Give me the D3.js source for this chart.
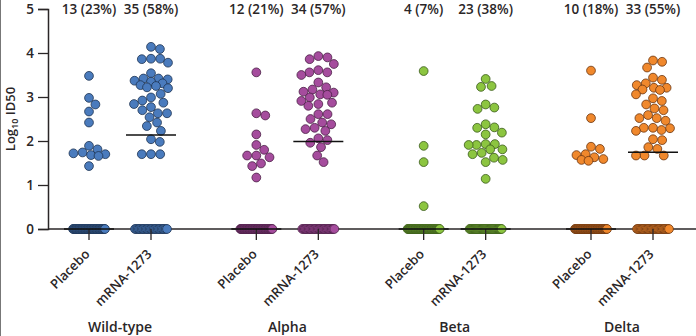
<!DOCTYPE html>
<html>
<head>
<meta charset="utf-8">
<script src="https://cdn.jsdelivr.net/npm/d3@7"></script>
<style>
  body { margin: 0; background: #fff; }
  svg { display: block; }
</style>
</head>
<body>
<svg id="chart" width="696" height="336"></svg>
<script>
// categories
const variants = ["Wild-type", "Alpha", "Beta", "Delta"];
const arms = ["Placebo", "mRNA-1273"];
const fillColors = ["#4a7bbd", "#a54c9d", "#8cc540", "#f0882c"];
const edgeColors = ["#1e3352", "#4a1f45", "#3a5a1a", "#6a3510"];

// responder counts shown above each column
const countLabels = [
  ["13 (23%)", "35 (58%)"],
  ["12 (21%)", "34 (57%)"],
  ["4 (7%)", "23 (38%)"],
  ["10 (18%)", "33 (55%)"]
];

// non-responders (plotted at 0)
const zeroCounts = [
  [44, 25],
  [45, 26],
  [53, 37],
  [46, 27]
];

// responder titers, log10 ID50
const wtPlacebo = [3.48, 2.98, 2.83, 2.67, 2.42, 1.89, 1.74, 1.70, 1.66, 1.68, 1.72, 1.81, 1.43];
const wtMrna = [4.09, 4.14, 3.87, 3.78, 3.86, 3.87, 3.54, 3.42, 3.37, 3.35, 3.40, 3.42,
  3.27, 3.20, 3.31, 3.22, 3.25, 2.99, 3.07, 2.92, 2.84, 2.70, 2.77, 2.87, 2.63, 2.54,
  2.63, 2.34, 2.42, 2.23, 1.98, 2.04, 1.70, 1.70, 1.70];
const alphaPlacebo = [3.56, 2.58, 2.63, 2.15, 1.80, 1.91, 1.67, 1.63, 1.67, 1.43, 1.49, 1.17];
const alphaMrna = [3.86, 3.93, 3.90, 3.75, 3.56, 3.61, 3.50, 3.56, 3.33, 3.22, 3.12, 3.06,
  2.99, 3.05, 3.10, 3.17, 2.87, 2.80, 2.84, 2.91, 2.61, 2.61, 2.42, 2.30, 2.23, 2.27,
  2.38, 2.50, 2.02, 1.96, 2.06, 1.86, 1.67, 1.52];
const betaPlacebo = [3.59, 1.89, 1.52, 0.52];
const betaMrna = [3.41, 3.23, 3.25, 2.83, 2.73, 2.76, 2.38, 2.30, 2.15, 2.19, 2.31, 1.93,
  1.91, 1.81, 1.91, 1.93, 1.81, 1.73, 1.62, 1.52, 1.57, 1.70, 1.14];
const deltaPlacebo = [3.60, 2.52, 1.87, 1.82, 1.70, 1.59, 1.55, 1.57, 1.63, 1.68];
const deltaMrna = [3.83, 3.67, 3.80, 3.39, 3.27, 3.21, 3.21, 3.31, 3.44, 3.16, 3.06, 3.17,
  2.97, 2.83, 2.91, 2.70, 2.52, 2.46, 2.52, 2.59, 2.74, 2.30, 2.29, 2.23, 2.25, 2.30,
  2.04, 2.02, 1.86, 1.82, 1.67, 1.67, 1.67];

const positives = [
  [wtPlacebo, wtMrna],
  [alphaPlacebo, alphaMrna],
  [betaPlacebo, betaMrna],
  [deltaPlacebo, deltaMrna]
];

const yTicks = [0, 1, 2, 3, 4, 5];

const font = "'Open Sans', 'Noto Sans', sans-serif";
const textColor = "#2a2627";
const textWeight = 600;
const r = 4.4;
const halfWidth = 17;

const svg = d3.select("#chart");

let x0 = d3.scalePoint().domain(variants).range([120, 622]);
let x1 = d3.scalePoint().domain(arms).range([-31, 31]);
let y = d3.scaleLinear().domain([0, 5]).range([229, 9]);

// thin frame line on the left edge
svg.append("line")
  .attr("x1", 0.5).attr("x2", 0.5)
  .attr("y1", 0).attr("y2", 336)
  .style("stroke", "#777")
  .style("stroke-width", 1);

// y axis
let yAxis = svg.append("g")
  .attr("transform", "translate(48,0)")
  .call(d3.axisLeft(y).tickValues(yTicks).tickSize(10).tickPadding(4).tickFormat(d3.format("d")));
yAxis.select(".domain").style("stroke", textColor).style("stroke-width", 1.5);
yAxis.selectAll(".tick line").style("stroke", textColor).style("stroke-width", 1.3);
yAxis.selectAll("text")
  .style("font-family", font)
  .style("font-size", "13.5px")
  .style("font-weight", textWeight)
  .style("fill", textColor);

// y label
let yLab = svg.append("text")
  .attr("transform", "translate(15," + y(2.5) + ") rotate(-90)")
  .style("text-anchor", "middle")
  .style("font-family", font)
  .style("font-size", "13px")
  .style("font-weight", textWeight)
  .style("fill", textColor);
yLab.append("tspan").text("Log");
yLab.append("tspan").attr("dy", 3).style("font-size", "9px").text("10");
yLab.append("tspan").attr("dy", -3).text(" ID50");

// x axis baseline
svg.append("line")
  .attr("x1", 48).attr("x2", 696)
  .attr("y1", y(0)).attr("y2", y(0))
  .style("stroke", textColor)
  .style("stroke-width", 1.5);

// beeswarm kept inside a fixed column width; overlaps when crowded
function swarm(values, diam) {
  let sorted = values.map(v => ({ v: v, py: y(v) })).sort((a, b) => a.py - b.py);
  let placed = [];
  let minDist = (p, c) => placed.reduce((m, q) => {
    let ddx = q.dx - c, ddy = q.py - p.py;
    return Math.min(m, Math.sqrt(ddx * ddx + ddy * ddy));
  }, Infinity);
  sorted.forEach(p => {
    let cands = [0];
    placed.forEach(q => {
      let dy = Math.abs(q.py - p.py);
      if (dy < diam) {
        let dx = Math.sqrt(diam * diam - dy * dy);
        cands.push(q.dx + dx, q.dx - dx);
      }
    });
    cands = cands.filter(c => Math.abs(c) <= halfWidth + 0.01);
    cands.sort((a, b) => Math.abs(a) - Math.abs(b) || b - a);
    let found = cands.find(c => minDist(p, c) >= diam - 0.01);
    if (found === undefined) {
      let best = 0, bestD = -1;
      for (let c = -halfWidth; c <= halfWidth; c += 0.5) {
        let d = minDist(p, c);
        if (d > bestD + 0.01) { bestD = d; best = c; }
      }
      found = best;
    }
    p.dx = found;
    placed.push(p);
  });
  return placed;
}

variants.forEach((variant, vi) => {
  arms.forEach((arm, ai) => {
    let cx = x0(variant) + x1(arm);
    let g = svg.append("g").attr("class", "col_" + vi + "_" + ai);

    // tick below axis
    svg.append("line")
      .attr("x1", cx).attr("x2", cx)
      .attr("y1", y(0)).attr("y2", y(0) + 11)
      .style("stroke", textColor)
      .style("stroke-width", 1.3);

    // zeros packed in a row
    let nz = zeroCounts[vi][ai];
    let zx = d3.scaleLinear().domain([0, nz - 1]).range([cx - 16, cx + 16]);
    g.selectAll(".zero")
      .data(d3.range(nz))
      .enter().append("circle")
      .attr("class", "zero")
      .attr("cx", d => zx(d))
      .attr("cy", y(0))
      .attr("r", r)
      .style("fill", fillColors[vi])
      .style("stroke", edgeColors[vi])
      .style("stroke-width", 0.8);

    // responders
    let pts = swarm(positives[vi][ai], 2 * r + 0.4);
    g.selectAll(".pos")
      .data(pts)
      .enter().append("circle")
      .attr("class", "pos")
      .attr("cx", d => cx + d.dx)
      .attr("cy", d => y(d.v))
      .attr("r", r)
      .style("fill", fillColors[vi])
      .style("stroke", edgeColors[vi])
      .style("stroke-width", 0.8);

    // median line over all participants
    let all = positives[vi][ai].concat(d3.range(nz).map(() => 0));
    let med = d3.median(all);
    svg.append("line")
      .attr("x1", cx - 25).attr("x2", cx + 25)
      .attr("y1", y(med)).attr("y2", y(med))
      .style("stroke", "#111")
      .style("stroke-width", 1.5);

    // count label on top
    svg.append("text")
      .attr("x", cx)
      .attr("y", 14)
      .text(countLabels[vi][ai])
      .style("text-anchor", "middle")
      .style("font-family", font)
      .style("font-size", "13.5px")
      .style("font-weight", textWeight)
      .style("fill", textColor);

    // rotated arm label
    svg.append("text")
      .attr("transform", "translate(" + (cx + 1.5) + "," + (y(0) + 26) + ") rotate(-45)")
      .text(arm)
      .style("text-anchor", "end")
      .style("font-family", font)
      .style("font-size", "13px")
      .style("font-weight", textWeight)
      .style("fill", textColor);
  });

  // variant label
  svg.append("text")
    .attr("x", x0(variant))
    .attr("y", 332)
    .text(variant)
    .style("text-anchor", "middle")
    .style("font-family", font)
    .style("font-size", "14px")
    .style("font-weight", textWeight)
    .style("fill", textColor);
});
</script>
</body>
</html>
